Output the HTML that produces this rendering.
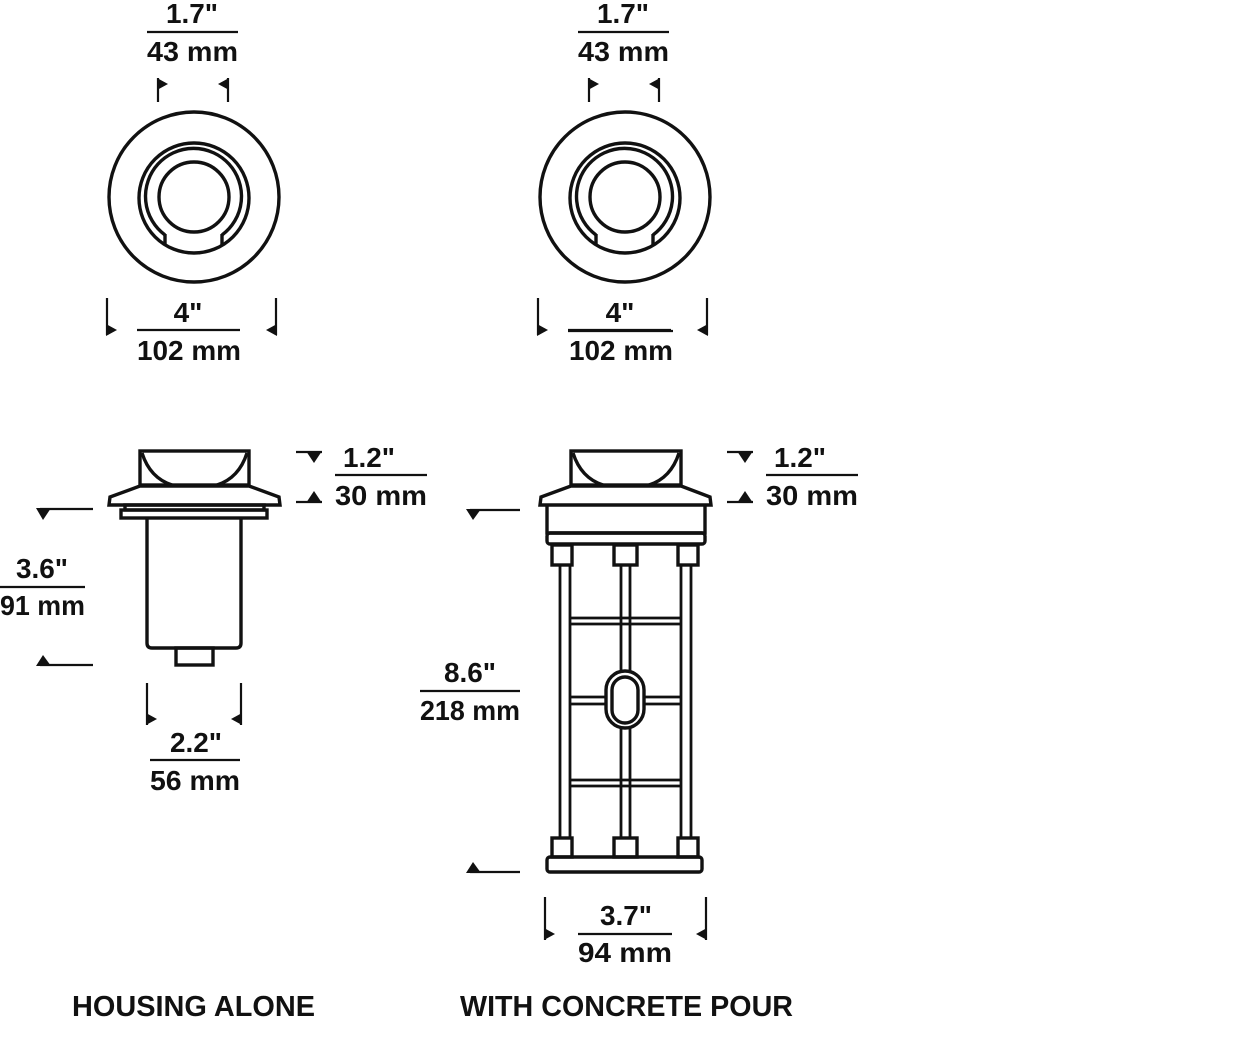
<!DOCTYPE html>
<html><head><meta charset="utf-8"><style>
html,body{margin:0;padding:0;background:#fff;}
svg{display:block;}
text{font-family:"Liberation Sans",sans-serif;font-weight:bold;fill:#111;}
</style></head><body>
<svg width="1242" height="1046" viewBox="0 0 1242 1046" xmlns="http://www.w3.org/2000/svg">
<g fill="none" stroke="#111" stroke-width="3.4">
<g>
  <circle cx="194" cy="197" r="85"/>
  <circle cx="194" cy="198" r="55"/>
  <path d="M165 235 A48 48 0 1 1 222 235"/>
  <path d="M165 234 V245 M222 234 V245"/>
  <circle cx="194" cy="197" r="35"/>
  <path d="M158 78 V102 M228 78 V102 M107 298 V335 M276 298 V335" stroke-width="2.2"/>
  <path d="M147 32 H238 M137 330 H240" stroke-width="2.2"/>
</g>
<g transform="translate(431,0)">
  <circle cx="194" cy="197" r="85"/>
  <circle cx="194" cy="198" r="55"/>
  <path d="M165 235 A48 48 0 1 1 222 235"/>
  <path d="M165 234 V245 M222 234 V245"/>
  <circle cx="194" cy="197" r="35"/>
  <path d="M158 78 V102 M228 78 V102 M107 298 V335 M276 298 V335" stroke-width="2.2"/>
  <path d="M147 32 H238 M137 330 H240" stroke-width="2.2"/>
</g>

<!-- housing side -->
<rect x="140" y="451" width="109" height="34"/>
<path d="M142 453 Q150 478 172 485 M247 453 Q239 478 217 485"/>
<path d="M140 486 L110 497 L109 505 L280 505 L279 497 L249 486 Z"/>
<rect x="125" y="505" width="139" height="5"/>
<rect x="121" y="510" width="146" height="8"/>
<path d="M147 518 V643 Q147 648 152 648 H236 Q241 648 241 643 V518"/>
<rect x="176" y="648" width="37" height="17"/>

<!-- concrete pour -->
<rect x="571" y="451" width="110" height="34"/>
<path d="M573 453 Q581 478 603 485 M679 453 Q671 478 649 485"/>
<path d="M571 486 L541 497 L540 505 L711 505 L710 497 L681 486 Z"/>
<path d="M547 505 V533 H705 V505"/>
<rect x="547" y="533" width="158" height="11" rx="3"/>
<rect x="552" y="545" width="20" height="20"/>
<rect x="614" y="545" width="23" height="20"/>
<rect x="678" y="545" width="20" height="20"/>
<rect x="552" y="838" width="20" height="19"/>
<rect x="614" y="838" width="23" height="19"/>
<rect x="678" y="838" width="20" height="19"/>
<rect x="547" y="857" width="155" height="15" rx="3"/>
<g stroke-width="2.8">
<path d="M560 565 V838 M570 565 V838 M681 565 V838 M691 565 V838"/>
<path d="M621 565 V672 M630 565 V672 M621 727 V838 M630 727 V838"/>
<path d="M570 618 H681 M570 624 H681 M570 780 H681 M570 786 H681"/>
<path d="M570 697 H606 M570 704 H606 M644 697 H681 M644 704 H681"/>
</g>
<rect x="606" y="671" width="38" height="57" rx="19"/>
<rect x="612" y="677" width="26" height="46" rx="13"/>

<g stroke-width="2.2">
<path d="M296 452 H322 M296 502 H322 M727 452 H753 M727 502 H753"/>
<path d="M40 509 H93 M40 665 H93 M470 510 H520 M470 872 H520"/>
<path d="M147 683 V725 M241 683 V725 M545 897 V940 M706 897 V940"/>
<path d="M0 587 H85 M335 475 H427 M766 475 H858 M150 760 H240 M420 691 H520 M578 934 H672 M568 331 H673"/>
</g>
</g>

<g fill="#111">
<path d="M157 78 L168 84 L157 90 Z"/><path d="M229 78 L218 84 L229 90 Z"/>
<path d="M106 324 L117 330 L106 336 Z"/><path d="M277 324 L266 330 L277 336 Z"/>
<g transform="translate(431,0)">
<path d="M157 78 L168 84 L157 90 Z"/><path d="M229 78 L218 84 L229 90 Z"/>
<path d="M106 324 L117 330 L106 336 Z"/><path d="M277 324 L266 330 L277 336 Z"/>
</g>
<path d="M306 451 L322 451 L314 463 Z"/><path d="M306 503 L322 503 L314 491 Z"/>
<path d="M737 451 L753 451 L745 463 Z"/><path d="M737 503 L753 503 L745 491 Z"/>
<path d="M36 508 L51 508 L43 520 Z"/><path d="M36 666 L51 666 L43 655 Z"/>
<path d="M466 509 L481 509 L473 520 Z"/><path d="M466 873 L481 873 L473 862 Z"/>
<path d="M146 713 L157 719 L146 725 Z"/><path d="M242 713 L231 719 L242 725 Z"/>
<path d="M544 928 L555 934 L544 940 Z"/><path d="M707 928 L696 934 L707 940 Z"/>
</g>

<g font-size="28">
<text x="192" y="23" text-anchor="middle" textLength="52" lengthAdjust="spacingAndGlyphs">1.7"</text>
<text x="147" y="61" textLength="91" lengthAdjust="spacingAndGlyphs">43 mm</text>
<text x="623" y="23" text-anchor="middle" textLength="52" lengthAdjust="spacingAndGlyphs">1.7"</text>
<text x="578" y="61" textLength="91" lengthAdjust="spacingAndGlyphs">43 mm</text>
<text x="188" y="322" text-anchor="middle">4"</text>
<text x="137" y="360" textLength="104" lengthAdjust="spacingAndGlyphs">102 mm</text>
<text x="620" y="322" text-anchor="middle">4"</text>
<text x="569" y="360" textLength="104" lengthAdjust="spacingAndGlyphs">102 mm</text>
<text x="369" y="467" text-anchor="middle" textLength="52" lengthAdjust="spacingAndGlyphs">1.2"</text>
<text x="335" y="505" textLength="92" lengthAdjust="spacingAndGlyphs">30 mm</text>
<text x="800" y="467" text-anchor="middle" textLength="52" lengthAdjust="spacingAndGlyphs">1.2"</text>
<text x="766" y="505" textLength="92" lengthAdjust="spacingAndGlyphs">30 mm</text>
<text x="42" y="578" text-anchor="middle" textLength="52" lengthAdjust="spacingAndGlyphs">3.6"</text>
<text x="0" y="615" textLength="85" lengthAdjust="spacingAndGlyphs">91 mm</text>
<text x="196" y="752" text-anchor="middle" textLength="52" lengthAdjust="spacingAndGlyphs">2.2"</text>
<text x="150" y="790" textLength="90" lengthAdjust="spacingAndGlyphs">56 mm</text>
<text x="470" y="682" text-anchor="middle" textLength="52" lengthAdjust="spacingAndGlyphs">8.6"</text>
<text x="420" y="720" textLength="100" lengthAdjust="spacingAndGlyphs">218 mm</text>
<text x="626" y="925" text-anchor="middle" textLength="52" lengthAdjust="spacingAndGlyphs">3.7"</text>
<text x="578" y="962" textLength="94" lengthAdjust="spacingAndGlyphs">94 mm</text>
</g>
<g font-size="29">
<text x="72" y="1016" textLength="243" lengthAdjust="spacingAndGlyphs">HOUSING ALONE</text>
<text x="460" y="1016" textLength="333" lengthAdjust="spacingAndGlyphs">WITH CONCRETE POUR</text>
</g>
</svg>
</body></html>
